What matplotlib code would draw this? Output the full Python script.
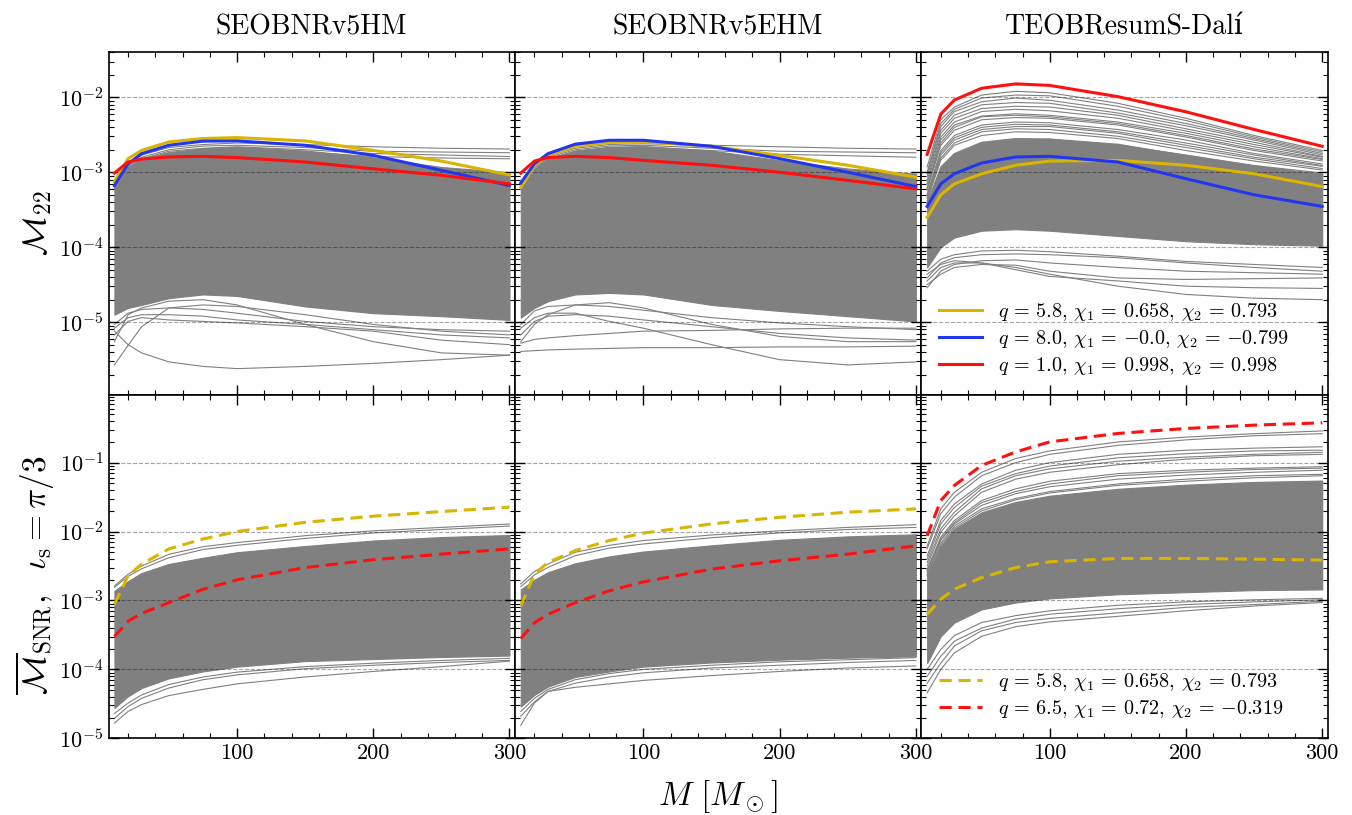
import numpy as np
import matplotlib
matplotlib.use("Agg")
import matplotlib.pyplot as plt
from matplotlib.ticker import LogLocator, MultipleLocator, NullFormatter, FormatStrFormatter

plt.rcParams['font.family'] = ['cmr10', 'DejaVu Serif']
plt.rcParams['mathtext.fontset'] = 'cm'
plt.rcParams['axes.formatter.use_mathtext'] = True
plt.rcParams['axes.unicode_minus'] = False

# ---------------- data ----------------
M = [10, 20, 30, 50, 75, 100, 150, 200, 250, 300]
titles = ['SEOBNRv5HM', 'SEOBNRv5EHM', 'TEOBResumS-Dalí']

# highlighted curves (values)
tl_yellow = [7.5e-4, 1.52e-3, 1.96e-3, 2.54e-3, 2.82e-3, 2.90e-3, 2.62e-3, 1.96e-3, 1.41e-3, 9.2e-4]
tl_blue = [6.65e-4, 1.30e-3, 1.77e-3, 2.29e-3, 2.60e-3, 2.62e-3, 2.29e-3, 1.68e-3, 1.06e-3, 6.65e-4]
tl_red = [9.75e-4, 1.37e-3, 1.50e-3, 1.60e-3, 1.63e-3, 1.57e-3, 1.37e-3, 1.11e-3, 9.1e-4, 7.0e-4]

tm_yellow = [6.3e-4, 1.24e-3, 1.68e-3, 2.22e-3, 2.50e-3, 2.54e-3, 2.22e-3, 1.68e-3, 1.24e-3, 8.6e-4]
tm_blue = [7.2e-4, 1.30e-3, 1.77e-3, 2.37e-3, 2.67e-3, 2.67e-3, 2.22e-3, 1.52e-3, 1.0e-3, 6.45e-4]
tm_red = [9.75e-4, 1.41e-3, 1.57e-3, 1.63e-3, 1.57e-3, 1.44e-3, 1.24e-3, 1.0e-3, 7.8e-4, 6.0e-4]

tr_yellow = [2.5e-4, 5.0e-4, 7.0e-4, 9.55e-4, 1.24e-3, 1.41e-3, 1.44e-3, 1.24e-3, 9.55e-4, 6.45e-4]
tr_blue = [3.5e-4, 7.0e-4, 9.55e-4, 1.33e-3, 1.60e-3, 1.63e-3, 1.37e-3, 8.2e-4, 5.0e-4, 3.5e-4]
tr_red = [1.73e-3, 5.97e-3, 9.2e-3, 1.32e-2, 1.51e-2, 1.44e-2, 1.02e-2, 6.4e-3, 3.72e-3, 2.22e-3]

bl_yellow = [8.8e-4, 2.28e-3, 3.37e-3, 5.6e-3, 7.8e-3, 1.0e-2, 1.36e-2, 1.67e-2, 1.95e-2, 2.26e-2]
bl_red = [3.0e-4, 5.0e-4, 6.5e-4, 9.3e-4, 1.45e-3, 1.99e-3, 3.0e-3, 3.9e-3, 4.7e-3, 5.6e-3]

bm_yellow = [8.3e-4, 2.4e-3, 3.56e-3, 5.3e-3, 7.4e-3, 9.5e-3, 1.29e-2, 1.61e-2, 1.91e-2, 2.13e-2]
bm_red = [2.8e-4, 4.75e-4, 6.3e-4, 9.3e-4, 1.38e-3, 1.86e-3, 2.85e-3, 3.77e-3, 4.7e-3, 6.2e-3]

br_yellow = [6.3e-4, 1.04e-3, 1.46e-3, 2.15e-3, 3.0e-3, 3.64e-3, 4.07e-3, 4.07e-3, 3.98e-3, 3.85e-3]
br_red = [8.7e-3, 2.82e-2, 4.67e-2, 9.1e-2, 0.143, 0.20, 0.265, 0.313, 0.35, 0.378]

top_labels = [r'$q\,=\,5.8$, $\chi_1\,=\,0.658$, $\chi_2\,=\,0.793$',
              r'$q\,=\,8.0$, $\chi_1\,=\,{-}0.0$, $\chi_2\,=\,{-}0.799$',
              r'$q\,=\,1.0$, $\chi_1\,=\,0.998$, $\chi_2\,=\,0.998$']
bot_labels = [r'$q\,=\,5.8$, $\chi_1\,=\,0.658$, $\chi_2\,=\,0.793$',
              r'$q\,=\,6.5$, $\chi_1\,=\,0.72$, $\chi_2\,=\,{-}0.319$']

# grey population: dense core band (log10 of lower/upper edge) + individual outlying curves (log10)
tl_core_lo = [-4.90, -4.81, -4.77, -4.68, -4.63, -4.65, -4.79, -4.88, -4.92, -4.97]
tl_core_hi = [-3.20, -2.93, -2.82, -2.73, -2.68, -2.66, -2.71, -2.80, -2.93, -3.00]
tl_lines = [
    [-3.15, -2.91, -2.77, -2.67, -2.63, -2.61, -2.63, -2.66, -2.68, -2.69],
    [-3.18, -2.92, -2.80, -2.70, -2.65, -2.64, -2.67, -2.72, -2.73, -2.74],
    [-3.20, -2.94, -2.82, -2.72, -2.68, -2.66, -2.70, -2.75, -2.77, -2.79],
    [-3.22, -2.95, -2.84, -2.75, -2.71, -2.69, -2.73, -2.79, -2.81, -2.82],
    [-5.12, -5.30, -5.41, -5.53, -5.59, -5.62, -5.59, -5.55, -5.50, -5.44],
    [-5.57, -5.31, -5.06, -4.81, -4.77, -4.79, -4.90, -5.03, -5.12, -5.17],
    [-5.26, -4.90, -4.81, -4.72, -4.70, -4.77, -5.03, -5.26, -5.41, -5.44],
    [-5.08, -4.94, -4.90, -4.90, -4.92, -4.97, -5.03, -5.10, -5.17, -5.21],
    [-5.17, -4.99, -4.94, -4.97, -4.99, -5.01, -5.06, -5.12, -5.24, -5.30],
    [-5.03, -4.88, -4.83, -4.81, -4.83, -4.88, -4.99, -5.06, -5.10, -5.12],
]

tm_core_lo = [-4.94, -4.81, -4.72, -4.63, -4.61, -4.63, -4.77, -4.85, -4.92, -4.99]
tm_core_hi = [-3.22, -2.95, -2.82, -2.71, -2.66, -2.65, -2.71, -2.84, -2.95, -3.02]
tm_lines = [
    [-3.15, -2.91, -2.78, -2.68, -2.63, -2.62, -2.64, -2.66, -2.68, -2.69],
    [-3.18, -2.93, -2.80, -2.70, -2.65, -2.64, -2.68, -2.72, -2.73, -2.74],
    [-3.20, -2.94, -2.82, -2.72, -2.68, -2.67, -2.71, -2.76, -2.78, -2.80],
    [-5.39, -5.38, -5.37, -5.36, -5.35, -5.34, -5.34, -5.33, -5.33, -5.32],
    [-5.28, -5.23, -5.21, -5.18, -5.15, -5.12, -5.11, -5.09, -5.08, -5.08],
    [-5.08, -4.94, -4.88, -4.88, -4.99, -5.08, -5.30, -5.50, -5.57, -5.53],
    [-5.26, -5.03, -4.90, -4.77, -4.74, -4.81, -5.03, -5.19, -5.26, -5.26],
    [-5.17, -4.99, -4.92, -4.90, -4.92, -4.97, -5.06, -5.15, -5.21, -5.24],
    [-5.03, -4.85, -4.79, -4.77, -4.79, -4.84, -4.94, -5.01, -5.06, -5.10],
]

tr_core_lo = [-4.27, -4.00, -3.87, -3.78, -3.76, -3.78, -3.85, -3.92, -3.96, -3.98]
tr_core_hi = [-3.38, -2.93, -2.75, -2.60, -2.55, -2.55, -2.62, -2.77, -2.91, -3.02]
tr_lines = [
    [-2.93, -2.30, -2.13, -1.97, -1.92, -1.94, -2.08, -2.28, -2.51, -2.71],
    [-3.00, -2.35, -2.16, -2.01, -1.97, -1.98, -2.12, -2.31, -2.53, -2.73],
    [-3.02, -2.39, -2.19, -2.06, -2.01, -2.04, -2.17, -2.35, -2.55, -2.75],
    [-3.06, -2.44, -2.24, -2.10, -2.07, -2.08, -2.21, -2.38, -2.57, -2.77],
    [-3.11, -2.48, -2.28, -2.15, -2.12, -2.13, -2.24, -2.42, -2.60, -2.79],
    [-3.15, -2.53, -2.33, -2.19, -2.16, -2.18, -2.28, -2.45, -2.63, -2.80],
    [-3.20, -2.57, -2.37, -2.25, -2.22, -2.24, -2.33, -2.48, -2.66, -2.82],
    [-3.22, -2.61, -2.40, -2.26, -2.24, -2.26, -2.35, -2.51, -2.69, -2.83],
    [-3.24, -2.64, -2.44, -2.30, -2.27, -2.28, -2.37, -2.53, -2.71, -2.85],
    [-3.29, -2.71, -2.51, -2.37, -2.33, -2.34, -2.43, -2.57, -2.75, -2.89],
    [-3.31, -2.74, -2.54, -2.40, -2.36, -2.37, -2.46, -2.61, -2.77, -2.91],
    [-3.33, -2.77, -2.57, -2.43, -2.39, -2.39, -2.48, -2.64, -2.80, -2.92],
    [-3.35, -2.81, -2.61, -2.46, -2.42, -2.43, -2.52, -2.67, -2.82, -2.95],
    [-3.38, -2.84, -2.64, -2.51, -2.46, -2.47, -2.55, -2.71, -2.85, -2.97],
    [-3.42, -2.93, -2.75, -2.60, -2.55, -2.56, -2.64, -2.77, -2.91, -3.01],
    [-4.54, -4.32, -4.23, -4.18, -4.17, -4.21, -4.27, -4.32, -4.34, -4.36],
    [-4.45, -4.27, -4.21, -4.21, -4.27, -4.36, -4.52, -4.63, -4.68, -4.70],
    [-4.36, -4.23, -4.18, -4.21, -4.30, -4.39, -4.45, -4.52, -4.54, -4.55],
    [-4.41, -4.21, -4.14, -4.10, -4.09, -4.10, -4.14, -4.21, -4.27, -4.32],
    [-4.32, -4.16, -4.10, -4.05, -4.04, -4.06, -4.12, -4.19, -4.23, -4.27],
    [-4.50, -4.36, -4.27, -4.23, -4.24, -4.32, -4.41, -4.43, -4.42, -4.41],
]

bl_core_lo = [-4.56, -4.39, -4.27, -4.13, -4.03, -3.96, -3.88, -3.85, -3.82, -3.80]
bl_core_hi = [-2.86, -2.72, -2.60, -2.47, -2.38, -2.30, -2.21, -2.13, -2.08, -2.05]
bl_lines = [
    [-2.79, -2.62, -2.50, -2.33, -2.22, -2.16, -2.06, -1.99, -1.94, -1.89],
    [-2.81, -2.65, -2.54, -2.38, -2.26, -2.20, -2.10, -2.02, -1.97, -1.92],
    [-4.78, -4.61, -4.51, -4.38, -4.29, -4.21, -4.11, -4.03, -3.96, -3.88],
    [-4.71, -4.54, -4.42, -4.27, -4.15, -4.08, -3.99, -3.94, -3.90, -3.87],
    [-4.64, -4.49, -4.37, -4.22, -4.11, -4.04, -3.96, -3.91, -3.87, -3.84],
]

bm_core_lo = [-4.54, -4.37, -4.25, -4.11, -4.03, -3.96, -3.90, -3.86, -3.83, -3.81]
bm_core_hi = [-2.84, -2.70, -2.59, -2.46, -2.36, -2.29, -2.20, -2.12, -2.07, -2.04]
bm_lines = [
    [-2.76, -2.58, -2.47, -2.30, -2.20, -2.13, -2.05, -1.99, -1.94, -1.90],
    [-2.80, -2.63, -2.52, -2.35, -2.24, -2.18, -2.09, -2.02, -1.97, -1.94],
    [-4.81, -4.49, -4.32, -4.26, -4.21, -4.16, -4.09, -4.03, -3.98, -3.95],
    [-4.68, -4.47, -4.32, -4.20, -4.11, -4.05, -3.98, -3.94, -3.90, -3.87],
    [-4.61, -4.42, -4.29, -4.15, -4.06, -4.00, -3.94, -3.89, -3.86, -3.83],
]

br_core_lo = [-3.91, -3.52, -3.32, -3.13, -3.03, -2.97, -2.91, -2.88, -2.85, -2.84]
br_core_hi = [-2.64, -2.21, -1.96, -1.72, -1.57, -1.48, -1.38, -1.32, -1.28, -1.26]
br_lines = [
    [-2.21, -1.67, -1.43, -1.14, -0.94, -0.83, -0.70, -0.63, -0.58, -0.54],
    [-2.25, -1.74, -1.50, -1.19, -1.00, -0.88, -0.75, -0.67, -0.61, -0.58],
    [-2.35, -1.84, -1.60, -1.31, -1.11, -1.00, -0.88, -0.82, -0.79, -0.77],
    [-2.40, -1.89, -1.65, -1.34, -1.16, -1.05, -0.93, -0.87, -0.83, -0.82],
    [-2.45, -1.96, -1.72, -1.38, -1.19, -1.09, -0.98, -0.92, -0.88, -0.85],
    [-2.50, -2.01, -1.77, -1.43, -1.24, -1.14, -1.03, -0.95, -0.90, -0.88],
    [-2.55, -2.08, -1.84, -1.55, -1.38, -1.27, -1.16, -1.11, -1.08, -1.06],
    [-2.57, -2.11, -1.87, -1.58, -1.42, -1.31, -1.19, -1.14, -1.10, -1.08],
    [-2.59, -2.13, -1.89, -1.62, -1.45, -1.35, -1.24, -1.18, -1.14, -1.11],
    [-2.62, -2.17, -1.92, -1.67, -1.52, -1.42, -1.31, -1.24, -1.19, -1.17],
    [-2.64, -2.20, -1.95, -1.70, -1.54, -1.44, -1.33, -1.27, -1.22, -1.19],
    [-4.34, -4.00, -3.76, -3.52, -3.38, -3.31, -3.23, -3.15, -3.08, -3.03],
    [-4.20, -3.91, -3.66, -3.44, -3.32, -3.26, -3.18, -3.10, -3.06, -3.01],
    [-4.10, -3.81, -3.59, -3.40, -3.27, -3.20, -3.12, -3.06, -3.02, -2.99],
    [-4.00, -3.71, -3.51, -3.32, -3.22, -3.15, -3.07, -3.02, -2.99, -2.97],
]

# ---------------- styling ----------------
GREY = '#808080'
YELLOW = '#d9b400'
BLUE = '#2236f0'
RED = '#ff1010'

fig = plt.figure(figsize=(13.52, 8.15), dpi=100)
axes = fig.subplots(2, 3, gridspec_kw=dict(wspace=0, hspace=0))
fig.subplots_adjust(left=0.0803, right=0.982, top=0.936, bottom=0.0941)

Mx = np.array(M)

def grey_pop(ax, lo, hi, lines):
    ax.fill_between(Mx, 10.0 ** np.array(lo), 10.0 ** np.array(hi), color=GREY, lw=0.8,
                    edgecolor=GREY, zorder=1)
    for ln in lines:
        ax.plot(Mx, 10.0 ** np.array(ln), color=GREY, lw=0.8, zorder=1.2)

top_data = [
    (tl_core_lo, tl_core_hi, tl_lines, tl_yellow, tl_blue, tl_red),
    (tm_core_lo, tm_core_hi, tm_lines, tm_yellow, tm_blue, tm_red),
    (tr_core_lo, tr_core_hi, tr_lines, tr_yellow, tr_blue, tr_red),
]
bot_data = [
    (bl_core_lo, bl_core_hi, bl_lines, bl_yellow, bl_red),
    (bm_core_lo, bm_core_hi, bm_lines, bm_yellow, bm_red),
    (br_core_lo, br_core_hi, br_lines, br_yellow, br_red),
]

for j in range(3):
    ax = axes[0, j]
    lo, hi, lines, y, b, r = top_data[j]
    grey_pop(ax, lo, hi, lines)
    ax.plot(Mx, y, color=YELLOW, lw=2.2, zorder=3, label=top_labels[0])
    ax.plot(Mx, b, color=BLUE, lw=2.2, zorder=3, label=top_labels[1])
    ax.plot(Mx, r, color=RED, lw=2.2, zorder=3, label=top_labels[2])
    ax.set_ylim(1.06e-6, 4.0e-2)
    ax.set_title(titles[j], fontsize=20, pad=13, family=['cmr10', 'DejaVu Serif'])

    ax = axes[1, j]
    lo, hi, lines, y, r = bot_data[j]
    grey_pop(ax, lo, hi, lines)
    ax.plot(Mx, y, color=YELLOW, lw=2.2, ls=(0, (4, 2.2)), zorder=3, label=bot_labels[0])
    ax.plot(Mx, r, color=RED, lw=2.2, ls=(0, (4, 2.2)), zorder=3, label=bot_labels[1])
    ax.set_ylim(1.0e-5, 0.95)

for ax in axes.flat:
    ax.set_yscale('log')
    ax.set_xlim(5.7, 304)
    ax.xaxis.set_major_locator(MultipleLocator(100))
    ax.xaxis.set_minor_locator(MultipleLocator(20))
    ax.yaxis.set_major_locator(LogLocator(base=10, numticks=20))
    ax.yaxis.set_minor_locator(LogLocator(base=10, subs=np.arange(2, 10), numticks=20))
    ax.yaxis.set_minor_formatter(NullFormatter())
    ax.tick_params(which='both', direction='in', top=True, right=True, labelsize=16)
    ax.tick_params(which='major', length=7, width=1.0)
    ax.tick_params(which='minor', length=3.5, width=0.8)
    ax.grid(True, which='major', axis='y', ls='--', color='k', alpha=0.35, lw=0.8)
    ax.set_axisbelow(False)
    for s in ax.spines.values():
        s.set_linewidth(1.2)

for j in range(3):
    axes[0, j].tick_params(labelbottom=False)
    if j > 0:
        axes[0, j].tick_params(labelleft=False)
        axes[1, j].tick_params(labelleft=False)
    axes[1, j].xaxis.set_major_formatter(FormatStrFormatter('%d'))

for ax in (axes[0, 2], axes[1, 2]):
    ax.legend(loc='lower left', frameon=False, fontsize=14.5, handlelength=2.1,
              borderaxespad=0.5, labelspacing=0.25, bbox_to_anchor=(0.0, 0.0))

fig.text(38 / 1352, 1 - 223 / 815, r'$\mathcal{M}_{22}$', rotation=90, fontsize=24,
         ha='center', va='center')
fig.text(35 / 1352, 1 - 575 / 815, r'$\overline{\mathcal{M}}_{\rm SNR},\ \ \iota_{\rm s} = \pi/3$',
         rotation=90, fontsize=24, ha='center', va='center')
fig.text(718 / 1352, 1 - 797 / 815, r'$M\ [M_\odot]$', fontsize=24, ha='center', va='center')

fig.savefig('out.png', dpi=100)
